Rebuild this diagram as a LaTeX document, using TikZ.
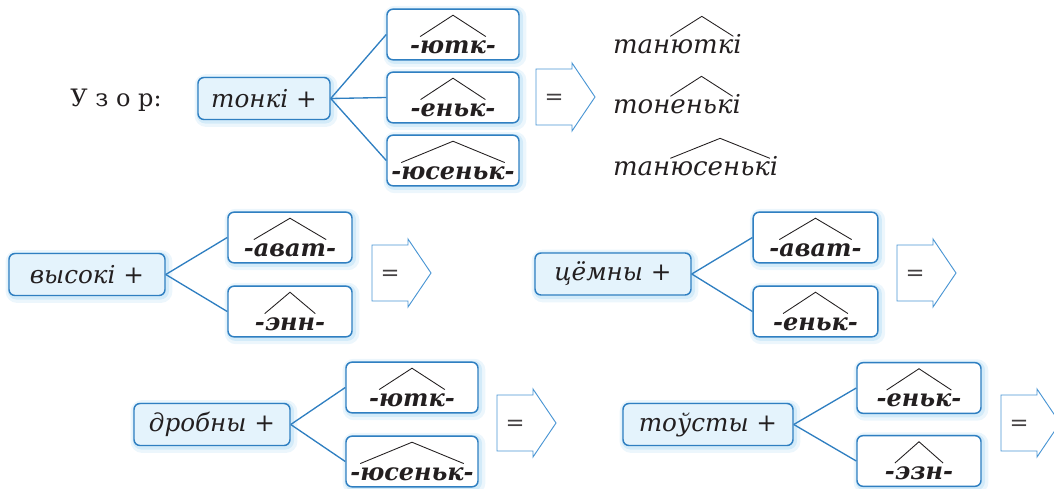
\documentclass[tikz,border=0pt]{standalone}
\usepackage{fontspec}
\setmainfont{DejaVu Serif}
\usetikzlibrary{positioning}

\definecolor{boxblue}{HTML}{2F7FC1}
\definecolor{boxfill}{HTML}{E4F3FC}
\definecolor{glowblue}{HTML}{B5DDF5}
\definecolor{arrblue}{HTML}{4A96D4}
\definecolor{ink}{HTML}{231F20}

% suffix box: name, x, y, width, stem
\newcommand{\sfxbox}[5]{%
  \node[sfx, minimum width=#4] (#1) at (#2,#3) {};
  \node[stem, anchor=base] (#1h) at ([yshift=5.5pt]#1.south) {#5};
  \node[stem, base left=0pt of #1h] (#1l) {-};
  \node[stem, base right=0pt of #1h] (#1r) {-};
  \draw[hat] ([yshift=12.5pt]#1h.base west) -- ([yshift=28.5pt]#1h.base) -- ([yshift=12.5pt]#1h.base east);
}

% result word: name, x, y, head, stem, tail
\newcommand{\hatresult}[6]{%
  \node[word, anchor=base west] (#1a) at (#2,#3) {#4};
  \node[word, base right=0pt of #1a] (#1h) {#5};
  \node[word, base right=0pt of #1h] (#1b) {#6};
  \draw[hat] ([yshift=12.5pt]#1h.base west) -- ([yshift=27.5pt]#1h.base) -- ([yshift=12.5pt]#1h.base east);
}

\begin{document}
\begin{tikzpicture}[x=0.75pt, y=-0.75pt,
    glow/.style={
      preaction={draw=glowblue, line width=8pt, opacity=.25, transform canvas={shift={(1.5pt,-1.5pt)}}},
      preaction={draw=glowblue, line width=4pt, opacity=.45, transform canvas={shift={(1pt,-1pt)}}}},
    base/.style={draw=boxblue, fill=boxfill, line width=1.1pt, rounded corners=4.5pt,
      minimum height=31.5pt, inner sep=0pt, text=ink, glow,
      font=\itshape\fontsize{18.5}{22}\selectfont},
    sfx/.style={draw=boxblue, fill=white, line width=1.1pt, rounded corners=4.5pt,
      minimum height=38pt, glow},
    stem/.style={inner sep=0pt, outer sep=0pt, text=ink,
      font=\bfseries\itshape\fontsize{18}{21}\selectfont},
    word/.style={inner sep=0pt, outer sep=0pt, text=ink,
      font=\itshape\fontsize{19.5}{23}\selectfont},
    hat/.style={line width=0.65pt, draw=ink},
    link/.style={draw=boxblue, line width=1pt},
    arr/.style={draw=arrblue, line width=0.7pt, fill=white},
    eq/.style={text=ink!85, anchor=base, font=\fontsize{17}{20}\selectfont}]
  \useasboundingbox (0,0) rectangle (1054,489);

  % pattern
  \node[text=ink, font=\fontsize{18}{21}\selectfont] (uzor) at (116,100) {У з о р:};
  \node[base, minimum width=99pt] (b1) at (264,98.5) {тонкі +};
  \sfxbox{s11}{453}{34.5}{99pt}{ютк}
  \sfxbox{s12}{453}{97.5}{99pt}{еньк}
  \sfxbox{s13}{453}{160.5}{99pt}{юсеньк}
  \draw[link] (b1.east) -- (s11.west);
  \draw[link] (b1.east) -- (s12.west);
  \draw[link] (b1.east) -- (s13.west);

  % results of the pattern
  \hatresult{r1}{613}{53}{тан}{ютк}{і}
  \hatresult{r2}{613}{113}{тон}{еньк}{і}
  \hatresult{r3}{613}{175}{тан}{юсеньк}{і}

  % tasks
  \node[base, minimum width=117pt] (b2) at (87,274.5) {высокі +};
  \sfxbox{s21}{290}{237.5}{93pt}{ават}
  \sfxbox{s22}{290}{311.5}{93pt}{энн}
  \draw[link] (b2.east) -- (s21.west);
  \draw[link] (b2.east) -- (s22.west);

  \node[base, minimum width=117pt] (b3) at (613,274) {цёмны +};
  \sfxbox{s31}{815.5}{237.5}{93.5pt}{ават}
  \sfxbox{s32}{815.5}{311.5}{93.5pt}{еньк}
  \draw[link] (b3.east) -- (s31.west);
  \draw[link] (b3.east) -- (s32.west);

  \node[base, minimum width=117pt] (b4) at (212,424.5) {дробны +};
  \sfxbox{s41}{412}{387.5}{99pt}{ютк}
  \sfxbox{s42}{412}{461.5}{99pt}{юсеньк}
  \draw[link] (b4.east) -- (s41.west);
  \draw[link] (b4.east) -- (s42.west);

  \node[base, minimum width=127.5pt] (b5) at (708,424.5) {тоўсты +};
  \sfxbox{s51}{919}{388}{93pt}{еньк}
  \sfxbox{s52}{919}{461}{93pt}{эзн}
  \draw[link] (b5.east) -- (s51.west);
  \draw[link] (b5.east) -- (s52.west);

  % "=" arrows
  \foreach \x/\y/\n in {536/97/1, 372/273/2, 897/273/3, 497/423/4, 1001/423/5} {
    \draw[arr] (\x,\y-28) -- ++(36,0) -- ++(0,-6) -- ++(23,34) -- ++(-23,34)
      -- ++(0,-6) -- ++(-36,0) -- cycle;
    \node[eq] (eq\n) at (\x+18,\y+7) {=};
  }
\end{tikzpicture}
\end{document}
